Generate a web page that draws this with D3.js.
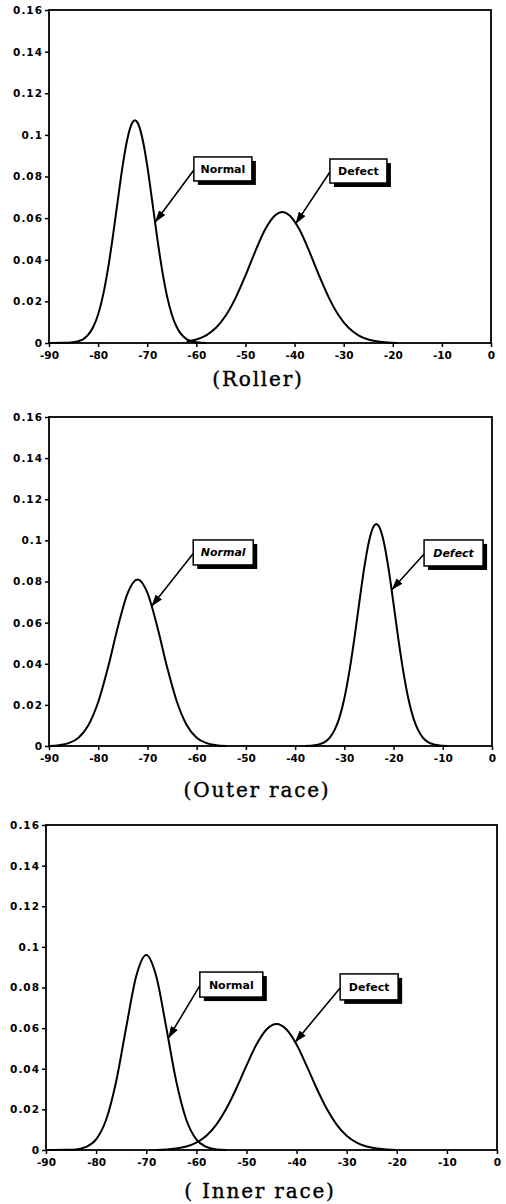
<!DOCTYPE html>
<html>
<head>
<meta charset="utf-8">
<script src="https://cdn.jsdelivr.net/npm/d3@7"></script>
<style>
  body { margin: 0; background: #fff; }
  svg { display: block; }
</style>
</head>
<body>
<svg id="chart" width="506" height="1204"></svg>
<script>
// Ejes comunes
const xTicks = [-90, -80, -70, -60, -50, -40, -30, -20, -10, 0];
const yTicks = [0, 0.02, 0.04, 0.06, 0.08, 0.1, 0.12, 0.14, 0.16];
const panelTitles = ["(Roller)", "(Outer race)", "( Inner race)"];
const seriesNames = ["Normal", "Defect"];

// Curvas: [x, densidad]
const rollerNormal = [[-90, 0], [-87, 0.0001], [-86, 0.0001], [-85, 0.0004], [-84, 0.0009], [-83, 0.0019],
  [-82, 0.004], [-81, 0.0077], [-80, 0.0137], [-79, 0.0229], [-78, 0.0355], [-77, 0.0511], [-76, 0.0684],
  [-75, 0.0852], [-74, 0.0985], [-73, 0.106], [-72.5, 0.107], [-72, 0.106], [-71, 0.0985], [-70, 0.0852],
  [-69, 0.0684], [-68, 0.0511], [-67, 0.0355], [-66, 0.0229], [-65, 0.0137], [-64, 0.0077], [-63, 0.004],
  [-62, 0.0019], [-61, 0.0009], [-60, 0.0004], [-59, 0.0001], [-58, 0]];
const rollerDefect = [[-62, 0.0007], [-60, 0.0017], [-58, 0.0037], [-56, 0.0073], [-54, 0.0132], [-52, 0.0217],
  [-50, 0.0324], [-48, 0.044], [-46, 0.0545], [-44, 0.0613], [-42.5, 0.063], [-41, 0.0613], [-39, 0.0545],
  [-37, 0.044], [-35, 0.0324], [-33, 0.0217], [-31, 0.0132], [-29, 0.0073], [-27, 0.0037], [-25, 0.0017],
  [-23, 0.0007], [-21, 0.0002], [-19, 0]];
const outerNormal = [[-90, 0], [-88, 0.0004], [-86, 0.0014], [-84, 0.004], [-82, 0.0101], [-80, 0.0214],
  [-78, 0.0383], [-76, 0.058], [-74, 0.0745], [-72, 0.081], [-70, 0.0745], [-68, 0.058], [-66, 0.0383],
  [-64, 0.0214], [-62, 0.0101], [-60, 0.004], [-58, 0.0014], [-56, 0.0004], [-54, 0]];
const outerDefect = [[-38, 0], [-36, 0.0004], [-35, 0.0009], [-34, 0.0019], [-33, 0.004], [-32, 0.0077],
  [-31, 0.0138], [-30, 0.0231], [-29, 0.0359], [-28, 0.0516], [-27, 0.0691], [-26, 0.086], [-25, 0.0995],
  [-24, 0.107], [-23.5, 0.108], [-23, 0.107], [-22, 0.0995], [-21, 0.086], [-20, 0.0691], [-19, 0.0516],
  [-18, 0.0359], [-17, 0.0231], [-16, 0.0138], [-15, 0.0077], [-14, 0.004], [-13, 0.0019], [-12, 0.0009],
  [-11, 0.0004], [-9, 0]];
const innerNormal = [[-90, 0], [-86, 0.0001], [-84, 0.0003], [-82, 0.0015], [-80, 0.0052], [-78, 0.0149],
  [-76, 0.0337], [-74, 0.0603], [-72, 0.0855], [-70, 0.096], [-68, 0.0855], [-66, 0.0603], [-64, 0.0337],
  [-62, 0.0149], [-60, 0.0052], [-58, 0.0015], [-56, 0.0003], [-54, 0]];
const innerDefect = [[-68, 0], [-66, 0.0003], [-64, 0.0007], [-62, 0.0017], [-60, 0.0036], [-58, 0.007],
  [-56, 0.0125], [-54, 0.0204], [-52, 0.0304], [-50, 0.0415], [-48, 0.0519], [-46, 0.0593], [-44, 0.062],
  [-42, 0.0593], [-40, 0.0519], [-38, 0.0415], [-36, 0.0304], [-34, 0.0204], [-32, 0.0125], [-30, 0.007],
  [-28, 0.0036], [-26, 0.0017], [-24, 0.0007], [-22, 0.0003], [-20, 0]];

// Disposición de cada panel (píxeles) y posición de las etiquetas (unidades de datos)
const panels = [
  { title: panelTitles[0], curves: [rollerNormal, rollerDefect], frame: { left: 49, top: 10, right: 491, bottom: 343 },
    titleX: 258, titleY: 386, italic: false,
    notes: [{ box: [-60.5, 0.0894], w: 58, h: 24, tipX: -68.4 }, { box: [-32.8, 0.0884], w: 57, h: 24, tipX: -39.8 }] },
  { title: panelTitles[1], curves: [outerNormal, outerDefect], frame: { left: 49, top: 417, right: 492, bottom: 746 },
    titleX: 257, titleY: 797, italic: true,
    notes: [{ box: [-60.7, 0.1002], w: 60, h: 25, tipX: -69.2 }, { box: [-13.8, 0.1002], w: 59, h: 26, tipX: -20.4 }] },
  { title: panelTitles[2], curves: [innerNormal, innerDefect], frame: { left: 46, top: 825, right: 497, bottom: 1150 },
    titleX: 260, titleY: 1198, italic: false,
    notes: [{ box: [-59.3, 0.0876], w: 63, h: 25, tipX: -65.6 }, { box: [-31.3, 0.0867], w: 58, h: 26, tipX: -40.3 }] }
];

const svg = d3.select("#chart");

// Punta de flecha
svg.append("defs").append("marker")
    .attr("id", "arrow")
    .attr("markerUnits", "userSpaceOnUse")
    .attr("viewBox", "0 0 12 8")
    .attr("refX", 12)
    .attr("refY", 4)
    .attr("markerWidth", 12)
    .attr("markerHeight", 8)
    .attr("orient", "auto")
    .append("path")
    .attr("d", "M0,0 L12,4 L0,8 Z")
    .attr("fill", "#000");

// Interpolar la altura de la curva en x
function curveAt(points, xv) {
    const i = d3.bisector(d => d[0]).left(points, xv);
    if (i <= 0) return points[0][1];
    if (i >= points.length) return points[points.length - 1][1];
    const a = points[i - 1], b = points[i];
    const t = (xv - a[0]) / (b[0] - a[0]);
    return a[1] + t * (b[1] - a[1]);
}

panels.forEach(p => {
    const f = p.frame;
    const x = d3.scaleLinear().domain([-90, 0]).range([f.left, f.right]);
    const y = d3.scaleLinear().domain([0, 0.16]).range([f.bottom, f.top]);
    const g = svg.append("g");

    // Eje X
    const gx = g.append("g")
        .attr("transform", `translate(0, ${f.bottom})`)
        .call(d3.axisBottom(x).tickValues(xTicks).tickSize(4).tickSizeOuter(0).tickPadding(5)
            .tickFormat(d => String(d)));
    gx.select(".domain").remove();
    gx.selectAll("line").attr("stroke-width", 1.5);
    gx.selectAll("text")
        .attr("font-family", "DejaVu Sans, sans-serif")
        .attr("font-weight", "bold")
        .attr("font-size", "10.5px")
        .attr("fill", "#000");

    // Eje Y
    const gy = g.append("g")
        .attr("transform", `translate(${f.left}, 0)`)
        .call(d3.axisLeft(y).tickValues(yTicks).tickSize(4).tickSizeOuter(0).tickPadding(2)
            .tickFormat(d => d === 0 ? "0" : String(+d.toFixed(2))));
    gy.select(".domain").remove();
    gy.selectAll("line").attr("stroke-width", 1.5);
    gy.selectAll("text")
        .attr("font-family", "DejaVu Sans, sans-serif")
        .attr("font-weight", "bold")
        .attr("font-size", "10.5px")
        .attr("letter-spacing", "1px")
        .attr("fill", "#000");

    // Marco
    g.append("rect")
        .attr("x", f.left)
        .attr("y", f.top)
        .attr("width", f.right - f.left)
        .attr("height", f.bottom - f.top)
        .attr("fill", "none")
        .attr("stroke", "#000")
        .attr("stroke-width", 1.8);

    // Curvas
    const line = d3.line()
        .x(d => x(d[0]))
        .y(d => y(d[1]))
        .curve(d3.curveMonotoneX);
    g.selectAll(".curve")
        .data(p.curves)
        .join("path")
        .attr("class", "curve")
        .attr("d", line)
        .attr("fill", "none")
        .attr("stroke", "#000")
        .attr("stroke-width", 2);

    // Etiquetas con sombra y flecha
    p.notes.forEach((n, i) => {
        const bx = x(n.box[0]), by = y(n.box[1]);
        const tx = x(n.tipX), ty = y(curveAt(p.curves[i], n.tipX));
        g.append("line")
            .attr("x1", bx)
            .attr("y1", by + n.h / 2 + 1)
            .attr("x2", tx)
            .attr("y2", ty)
            .attr("stroke", "#000")
            .attr("stroke-width", 1.6)
            .attr("marker-end", "url(#arrow)");
        g.append("rect")
            .attr("x", bx + 4)
            .attr("y", by + 4)
            .attr("width", n.w)
            .attr("height", n.h)
            .attr("fill", "#000");
        g.append("rect")
            .attr("x", bx)
            .attr("y", by)
            .attr("width", n.w)
            .attr("height", n.h)
            .attr("fill", "#fff")
            .attr("stroke", "#000")
            .attr("stroke-width", 1.5);
        g.append("text")
            .attr("x", bx + n.w / 2)
            .attr("y", by + n.h / 2)
            .attr("dy", "0.36em")
            .attr("text-anchor", "middle")
            .attr("font-family", "DejaVu Sans, sans-serif")
            .attr("font-weight", "bold")
            .attr("font-style", p.italic ? "italic" : "normal")
            .attr("font-size", "11px")
            .attr("fill", "#000")
            .text(seriesNames[i]);
    });

    // Título del panel
    g.append("text")
        .attr("x", p.titleX)
        .attr("y", p.titleY)
        .attr("text-anchor", "middle")
        .attr("font-family", "DejaVu Serif, serif")
        .attr("font-size", "20px")
        .attr("letter-spacing", "1.8px")
        .attr("fill", "#000")
        .attr("stroke", "#000")
        .attr("stroke-width", 0.4)
        .text(p.title);
});
</script>
</body>
</html>
